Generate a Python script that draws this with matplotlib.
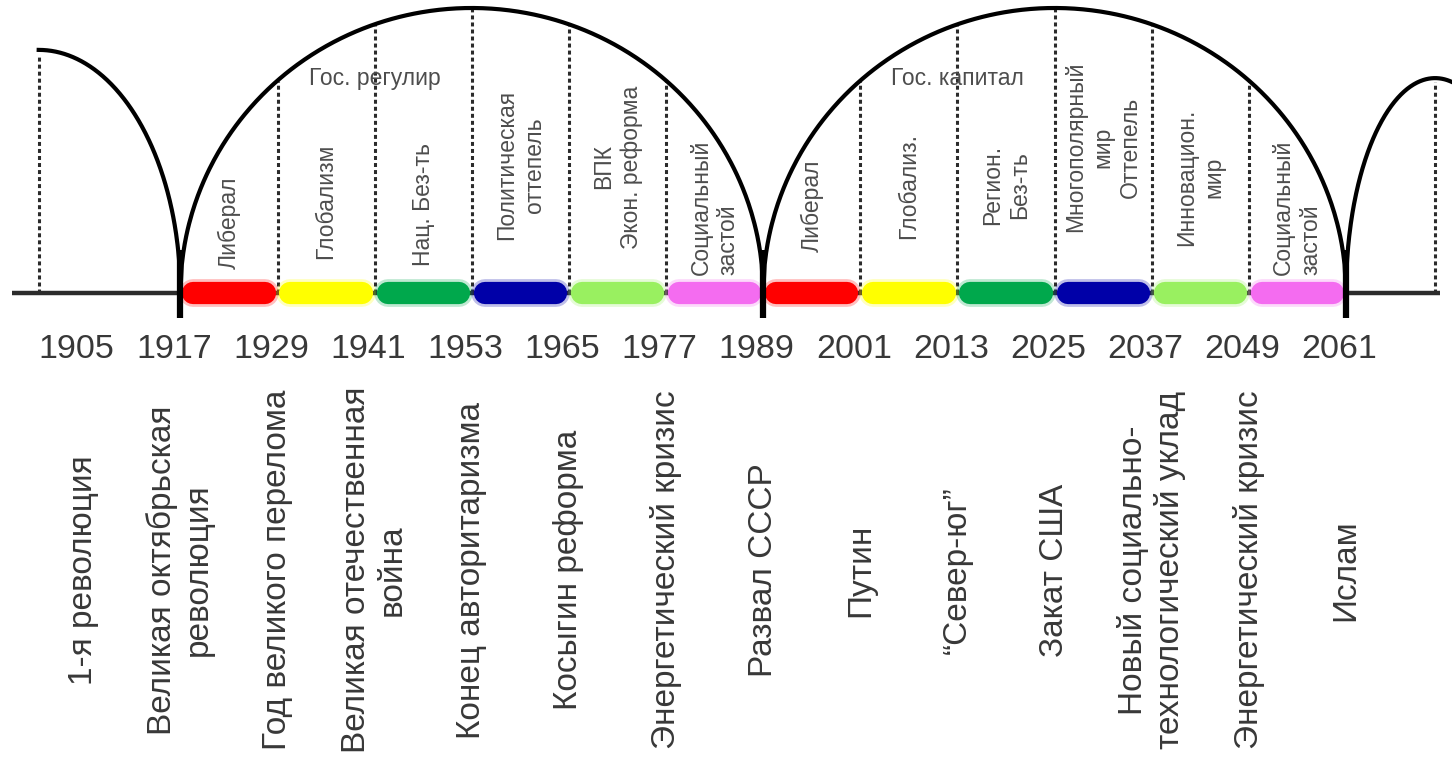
import numpy as np
import matplotlib
matplotlib.use("Agg")
import matplotlib.pyplot as plt

plt.rcParams['font.family'] = ['Liberation Sans', 'DejaVu Sans']

# --- data -------------------------------------------------------------
years = [1905, 1917, 1929, 1941, 1953, 1965, 1977,
         1989, 2001, 2013, 2025, 2037, 2049, 2061]
events = [
    "1-я революция",
    "Великая октябрьская\nреволюция",
    "Год великого перелома",
    "Великая отечественная\nвойна",
    "Конец авторитаризма",
    "Косыгин реформа",
    "Энергетический кризис",
    "Развал СССР",
    "Путин",
    "\u201cСевер-юг\u201d",
    "Закат США",
    "Новый социально-\nтехнологический уклад",
    "Энергетический кризис",
    "Ислам",
]
cycle_bounds = [(1917, 1989), (1989, 2061)]
cycle_titles = ["Гос. регулир", "Гос. капитал"]
phase_length = 12
phase_colors = ["#ff0000", "#ffff00", "#00a84c", "#0000a8", "#99f060", "#f46cf0"]
phase_labels = [
    ["Либерал", "Глобализм", "Нац. Без-ть", "Политическая\nоттепель",
     "ВПК\nЭкон. реформа", "Социальный\nзастой"],
    ["Либерал", "Глобализ.", "Регион.\nБез-ть", "Многополярный\nмир\nОттепель",
     "Инновацион.\nмир", "Социальный\nзастой"],
]

# --- layout (positions only) -----------------------------------------
PX_PER_YEAR = 8.095
X0 = 1989 - 763.2 / PX_PER_YEAR
X1 = X0 + 1452 / PX_PER_YEAR
label_y = [
    [0.246, 0.323, 0.309, 0.449, 0.442, 0.302],
    [0.305, 0.375, 0.379, 0.512, 0.407, 0.302],
]
label_align = ["center", "center", "center", "center", "center", "left"]
left_peak, left_h = 1899.5, 0.853
right_peak, right_h = 2072, 0.754

LINE = "#2b2b2b"
TEXT = "#383838"
SMALL = "#4d4d4d"


def ellipse(x, c, a, h):
    return h * np.sqrt(np.clip(1 - ((x - c) / a) ** 2, 0, None))


fig = plt.figure(figsize=(14.52, 7.67), dpi=100)
ax = fig.add_axes([0, 0, 1, 1])
ax.set_xlim(X0, X1)
ax.set_ylim((293 - 767) / 285, 293 / 285)
ax.axis("off")

# baseline
ax.plot([X0 + 12 / PX_PER_YEAR, X0 + 1440 / PX_PER_YEAR], [0, 0],
        color=LINE, lw=3.2, zorder=2, solid_capstyle="butt")

# outer partial arcs
xl = np.linspace(left_peak, 1917, 200)
ax.plot(xl, ellipse(xl, left_peak, 1917 - left_peak, left_h), color="black", lw=3, zorder=3)
xr = np.linspace(2061, X1, 200)
ax.plot(xr, ellipse(xr, right_peak, right_peak - 2061, right_h), color="black", lw=3, zorder=3)
for xp, hp in [(left_peak, left_h), (right_peak, right_h)]:
    ax.plot([xp, xp], [0, hp * 0.98], color=LINE, lw=2.2,
            linestyle=(0, (1.3, 1.0)), zorder=2)

# main cycles
for ci, (start, end) in enumerate(cycle_bounds):
    c = (start + end) / 2
    a = (end - start) / 2
    xs = np.linspace(start, end, 400)
    ax.plot(xs, ellipse(xs, c, a, 1.0), color="black", lw=3, zorder=3)

    for pi in range(6):
        p0 = start + pi * phase_length
        p1 = p0 + phase_length
        if pi > 0:
            ax.plot([p0, p0], [0, ellipse(p0, c, a, 1.0)], color=LINE, lw=2.2,
                    linestyle=(0, (1.3, 1.0)), zorder=2)
        col = phase_colors[pi]
        ax.plot([p0 + 1.6, p1 - 1.6], [0, 0], color=col, lw=20, alpha=0.25,
                solid_capstyle="round", zorder=4)
        ax.plot([p0 + 1.6, p1 - 1.6], [0, 0], color=col, lw=16,
                solid_capstyle="round", zorder=5)
        ax.text((p0 + p1) / 2, label_y[ci][pi], phase_labels[ci][pi],
                rotation=90, ha="center", va="center",
                multialignment=label_align[pi], fontsize=16.5,
                color=SMALL, linespacing=1.25, zorder=6)

    ax.text(start + 2 * phase_length, 0.754, cycle_titles[ci], ha="center",
            va="center", fontsize=16.5, color=SMALL, zorder=6)

# cusps
for cx in [1917, 1989, 2061]:
    ax.plot([cx, cx], [0.15, -0.088], color="black", lw=4.5, zorder=7,
            solid_capstyle="butt")

# year labels and events
for yr, ev in zip(years, events):
    ax.text(yr - 0.8, -0.2, str(yr), ha="center", va="center", fontsize=24.5, color=TEXT)
    ax.text(yr, -0.972, ev, rotation=90, ha="center", va="center",
            multialignment="center", fontsize=24, color=TEXT, linespacing=1.2)

fig.savefig("out.png", dpi=100)
